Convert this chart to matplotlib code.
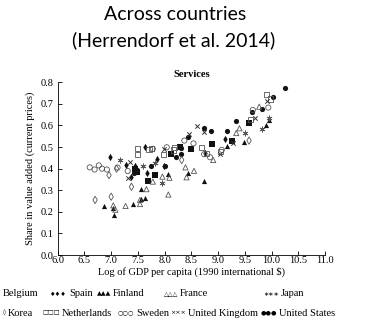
import matplotlib.pyplot as plt

# data: log GDP per capita vs services share
belgium_x = [9.58, 9.26, 8.88, 8.50, 8.29, 8.12, 7.82, 7.69, 7.45, 7.48]
belgium_y = [0.612, 0.528, 0.514, 0.493, 0.499, 0.468, 0.371, 0.344, 0.400, 0.386]
spain_x = [6.98, 7.38, 7.45, 7.63, 7.68, 7.86, 7.98, 8.75, 9.13, 7.27]
spain_y = [0.453, 0.360, 0.410, 0.499, 0.380, 0.445, 0.414, 0.471, 0.536, 0.415]
finland_x = [6.86, 7.04, 7.06, 7.41, 7.56, 7.63, 7.56, 8.07, 8.44, 8.74, 9.17, 9.48, 9.89, 9.95]
finland_y = [0.225, 0.219, 0.185, 0.235, 0.259, 0.262, 0.306, 0.376, 0.381, 0.343, 0.505, 0.525, 0.600, 0.625]
france_x = [7.04, 7.08, 7.27, 7.54, 7.54, 7.66, 7.78, 7.96, 8.07, 8.09, 8.39, 8.41, 8.55, 8.91, 9.34, 9.40, 9.77]
france_y = [0.230, 0.210, 0.227, 0.236, 0.255, 0.305, 0.340, 0.363, 0.280, 0.358, 0.406, 0.360, 0.390, 0.440, 0.565, 0.587, 0.687]
japan_x = [7.17, 7.82, 7.96, 9.50, 9.83, 9.95, 7.60]
japan_y = [0.440, 0.425, 0.332, 0.567, 0.582, 0.633, 0.410]
korea_x = [6.70, 7.00, 7.38, 6.96, 8.32, 9.58, 7.10]
korea_y = [0.255, 0.270, 0.316, 0.370, 0.440, 0.530, 0.400]
neth_x = [7.50, 7.50, 7.71, 7.76, 7.98, 8.16, 8.19, 8.69, 8.79, 9.61, 9.91, 9.98, 9.05]
neth_y = [0.494, 0.466, 0.490, 0.494, 0.466, 0.486, 0.499, 0.499, 0.470, 0.629, 0.744, 0.723, 0.480]
sweden_x = [6.60, 6.69, 6.77, 6.83, 6.92, 7.12, 7.31, 7.78, 8.04, 8.37, 8.54, 8.74, 8.85, 9.07, 9.65, 9.94]
sweden_y = [0.406, 0.396, 0.415, 0.400, 0.396, 0.405, 0.389, 0.492, 0.499, 0.530, 0.517, 0.467, 0.453, 0.487, 0.672, 0.683]
uk_x = [7.31, 7.36, 7.99, 8.45, 8.60, 8.74, 9.04, 9.28, 9.70, 9.91]
uk_y = [0.358, 0.429, 0.491, 0.561, 0.599, 0.571, 0.466, 0.520, 0.633, 0.715]
us_x = [7.42, 7.48, 7.74, 8.00, 8.21, 8.31, 8.31, 8.44, 8.74, 8.87, 9.16, 9.33, 9.64, 9.83, 10.03, 10.25]
us_y = [0.380, 0.392, 0.410, 0.410, 0.452, 0.468, 0.497, 0.545, 0.587, 0.575, 0.575, 0.622, 0.661, 0.676, 0.733, 0.774]

x_ticks = [6.0, 6.5, 7.0, 7.5, 8.0, 8.5, 9.0, 9.5, 10.0, 10.5, 11.0]
y_ticks = [0.0, 0.1, 0.2, 0.3, 0.4, 0.5, 0.6, 0.7, 0.8]

serif = ['Liberation Serif', 'DejaVu Serif']
W, H = 377, 323

fig = plt.figure(figsize=(3.77, 3.23), dpi=100)
fig.text(175 / W, 1 - 15 / H, 'Across countries', ha='center', va='center', fontsize=14, family='Lato')
fig.text(174 / W, 1 - 40 / H, '(Herrendorf et al. 2014)', ha='center', va='center', fontsize=14, family='Lato')

ax = fig.add_axes([0.153, 0.2105, 0.709, 0.5347])

filled = '#111111'
hollow = '#555555'
s = 14
ax.scatter(belgium_x, belgium_y, marker='s', s=s, color=filled, lw=0)
ax.scatter(spain_x, spain_y, marker='d', s=s, color=filled, lw=0)
ax.scatter(finland_x, finland_y, marker='^', s=s, color=filled, lw=0)
ax.scatter(us_x, us_y, marker='o', s=s, color=filled, lw=0)
ax.scatter(france_x, france_y, marker='^', s=s, facecolors='none', edgecolors=hollow, lw=0.6)
ax.scatter(korea_x, korea_y, marker='d', s=s, facecolors='none', edgecolors=hollow, lw=0.6)
ax.scatter(neth_x, neth_y, marker='s', s=s, facecolors='none', edgecolors=hollow, lw=0.6)
ax.scatter(sweden_x, sweden_y, marker='o', s=s, facecolors='none', edgecolors=hollow, lw=0.6)
ax.scatter(japan_x, japan_y, marker=(6, 2, 0), s=s, color=hollow, lw=0.6)
ax.scatter(uk_x, uk_y, marker='x', s=10, color='#333333', lw=0.7)

ax.set_xlim(6.0, 11.0)
ax.set_ylim(0.0, 0.8)
ax.set_xticks(x_ticks)
ax.set_yticks(y_ticks)
ax.set_xticklabels([f'{t:.1f}' for t in x_ticks], family=serif, fontsize=7.5)
ax.set_yticklabels([f'{t:.1f}' for t in y_ticks], family=serif, fontsize=7.5)
ax.tick_params(direction='in', length=3, width=0.6)
ax.tick_params(axis='x', pad=1)
ax.tick_params(axis='y', pad=3)
for side in ['top', 'right']:
    ax.spines[side].set_visible(False)
for side in ['left', 'bottom']:
    ax.spines[side].set_linewidth(0.6)

ax.set_xlabel('Log of GDP per capita (1990 international $)', family=serif, fontsize=7.5, labelpad=1)
ax.set_ylabel('Share in value added (current prices)', family=serif, fontsize=7.5, labelpad=4)
ax.set_title('Services', family=serif, fontsize=7.5, fontweight='bold', pad=4)

# two-row key under the chart (left part cropped as in the source);
# each symbol group sits just left of its name
row1_sym = ['', '\u2666\u2666\u2666', '\u25b2\u25b2\u25b2', '\u25b3\u25b3\u25b3', '\u2217\u2217\u2217']
row1_name = ['Belgium', 'Spain', 'Finland', 'France', 'Japan']
row1_name_x = [3, 69, 113, 180, 281]
row2_sym = ['\u25ca', '\u25a1\u25a1\u25a1', '\u25cb\u25cb\u25cb', '\u00d7\u00d7\u00d7', '\u25cf\u25cf\u25cf']
row2_name = ['Korea', 'Netherlands', 'Sweden', 'United Kingdom', 'United States']
row2_name_x = [8, 62, 136, 188, 279]

for syms, names, nx, yy in [(row1_sym, row1_name, row1_name_x, 294),
                             (row2_sym, row2_name, row2_name_x, 313)]:
    for sym, name, b in zip(syms, names, nx):
        if sym:
            fig.text((b - 2) / W, 1 - yy / H, sym, family='DejaVu Sans', fontsize=4.5,
                     va='center', ha='right')
        fig.text(b / W, 1 - yy / H, name, family=serif, fontsize=7.5, va='center', ha='left')

fig.savefig('out.png', dpi=100)
